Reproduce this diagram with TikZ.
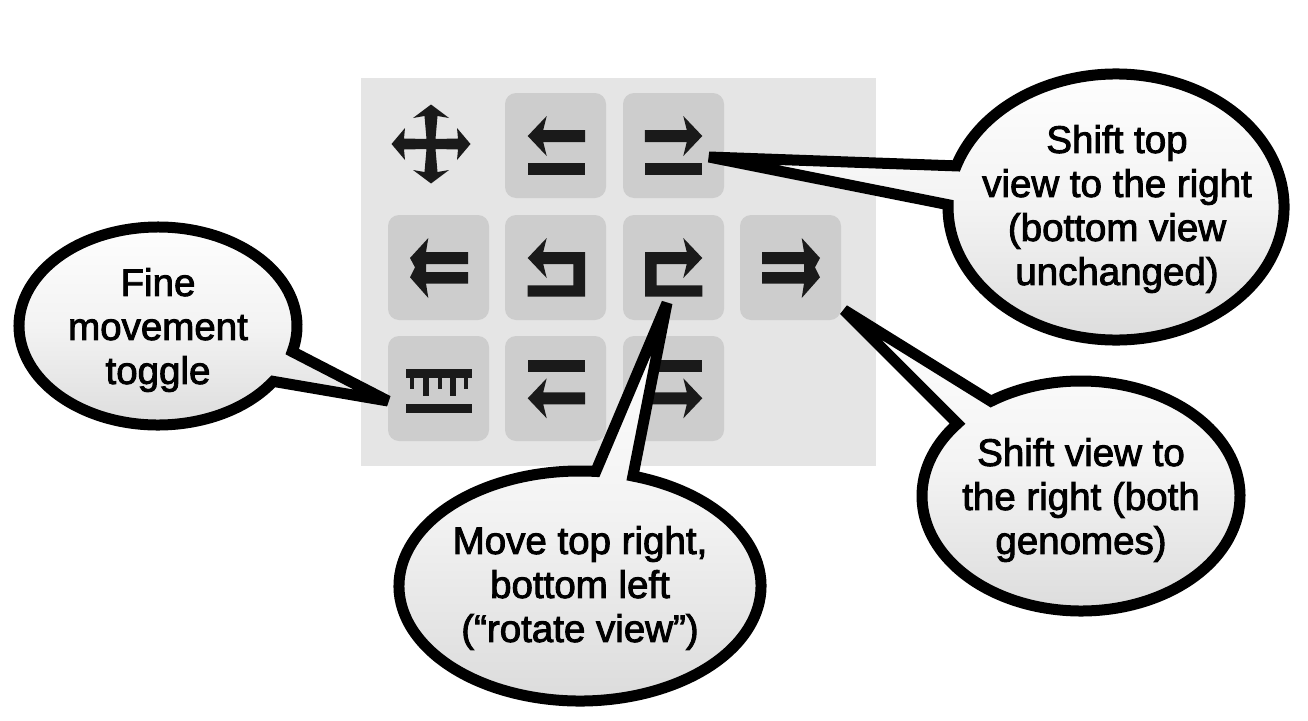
\documentclass[tikz,border=0pt]{standalone}
\usepackage{fontspec}
\newfontfamily\lblfont[FakeBold=2.4]{Liberation Sans}
\tikzset{
  panel/.style={fill=panelgray,draw=none},
  btn/.style={fill=btngray,draw=none,rounded corners=11pt},
  icon/.style={fill=icondark,draw=none},
  bubble/.style={draw=black,line width=11pt,line join=miter,miter limit=4,top color=bubbletop,bottom color=bubblebot,middle color=bubblemid},
  lbl/.style={align=center,font=\lblfont\fontsize{38.5}{44}\selectfont,text=black,inner sep=0pt}
}
\definecolor{panelgray}{HTML}{E5E5E5}
\definecolor{btngray}{HTML}{CDCDCD}
\definecolor{icondark}{HTML}{1A1A1A}
\definecolor{bubbletop}{HTML}{FFFFFF}
\definecolor{bubblemid}{HTML}{F3F3F3}
\definecolor{bubblebot}{HTML}{DADADA}
% arrow with its tip at #1,#2, pointing left
\newcommand{\larrowicon}[2]{\fill[icon] (#1,#2) -- ++(19,-20) -- ++(-3.5,14) -- ++(42,0) -- ++(0,12) -- ++(-42,0) -- ++(3.5,14) -- cycle;}
\newcommand{\barricon}[2]{\fill[icon] (#1,#2) rectangle ++(57.3,11.7);}
\newcommand{\uicon}{\fill[icon] (527.7,258) -- (546.7,238) -- (543.2,252) -- (585,252) -- (585,296.7) -- (527.7,296.7) -- (527.7,285.3) -- (573.3,285.3) -- (573.3,264) -- (543.2,264) -- (546.7,278) -- cycle;}
\newcommand{\dblicon}{\fill[icon] (410,258) -- (428.3,238) -- (426,252) -- (468,252) -- (468,264) -- (426,264) -- (426,272) -- (468,272) -- (468,283.5) -- (426,283.5) -- (428.3,298) -- (410,277.3) -- (415,267.3) -- cycle;}
% bubble: centre, radii, start and end angle, tip
\newcommand{\speech}[8]{\draw[bubble] (#7,#8) -- ([shift={(#5:#3 and #4)}]#1,#2) arc[start angle=#5,end angle=#6,x radius=#3,y radius=#4] -- cycle;}
\begin{document}
\begin{tikzpicture}[x=1pt,y=-1pt]
\useasboundingbox (0,0) rectangle (1308,720);
\fill[panel] (361,78) rectangle (876,466);
% buttons
\fill[btn] (505,93) rectangle (606,198);
\fill[btn] (623,93) rectangle (724,198);
\fill[btn] (388,215) rectangle (489,320);
\fill[btn] (505,215) rectangle (606,320);
\fill[btn] (623,215) rectangle (724,320);
\fill[btn] (740,215) rectangle (841,320);
\fill[btn] (388,336) rectangle (489,441);
\fill[btn] (505,336) rectangle (606,441);
\fill[btn] (623,336) rectangle (724,441);
% move icon
\fill[icon,shift={(431,144)}] (0,-39.5) -- (18,-26) -- (6.5,-28) -- (4.5,-5) -- (27,-5.5) -- (26,-16) -- (39.5,0) -- (26,16) -- (27,5.5) -- (4.5,5) -- (6.5,28) -- (18,26) -- (0,39.5) -- (-18,26) -- (-6.5,28) -- (-4.5,5) -- (-27,5.5) -- (-26,16) -- (-39.5,0) -- (-26,-16) -- (-27,-5.5) -- (-4.5,-5) -- (-6.5,-28) -- (-18,-26) -- cycle;
% left-hand icons
\larrowicon{527.7}{136}
\barricon{527.7}{163.3}
\dblicon
\uicon
\barricon{527.7}{360}
\larrowicon{527.7}{398.3}
% mirrored right-hand icons
\begin{scope}[xshift=1230pt,xscale=-1]
\larrowicon{527.7}{136}
\barricon{527.7}{163.3}
\dblicon
\uicon
\barricon{527.7}{360}
\larrowicon{527.7}{398.3}
\end{scope}
% ruler icon
\fill[icon] (406,368.7) rectangle (471.7,377.7);
\fill[icon] (406,404.3) rectangle (471.7,413.3);
\fill[icon] (423.3,377) rectangle (429.3,396);
\fill[icon] (450,377) rectangle (456,396);
\fill[icon] (410,377) rectangle (414,389);
\fill[icon] (437.7,377) rectangle (441.7,389);
\fill[icon] (464.3,377) rectangle (467.7,389);
% speech bubbles
\speech{1116}{207}{168}{133}{198}{541}{709}{157}
\speech{1081}{496}{159}{115}{235.5}{579}{844}{310}
\speech{580}{586}{181}{115}{287}{635}{667}{303}
\speech{158}{326}{139}{99}{34}{375}{388}{401}
% labels
\node[lbl] (shifttop) at (1117,209) {Shift top\\view to the right\\(bottom view\\unchanged)};
\node[lbl] (shiftboth) at (1081,500) {Shift view to\\the right (both\\genomes)};
\node[lbl] (rotate) at (580,588) {Move top right,\\bottom left\\(“rotate view”)};
\node[lbl] (fine) at (158,330) {Fine\\movement\\toggle};
\end{tikzpicture}
\end{document}
